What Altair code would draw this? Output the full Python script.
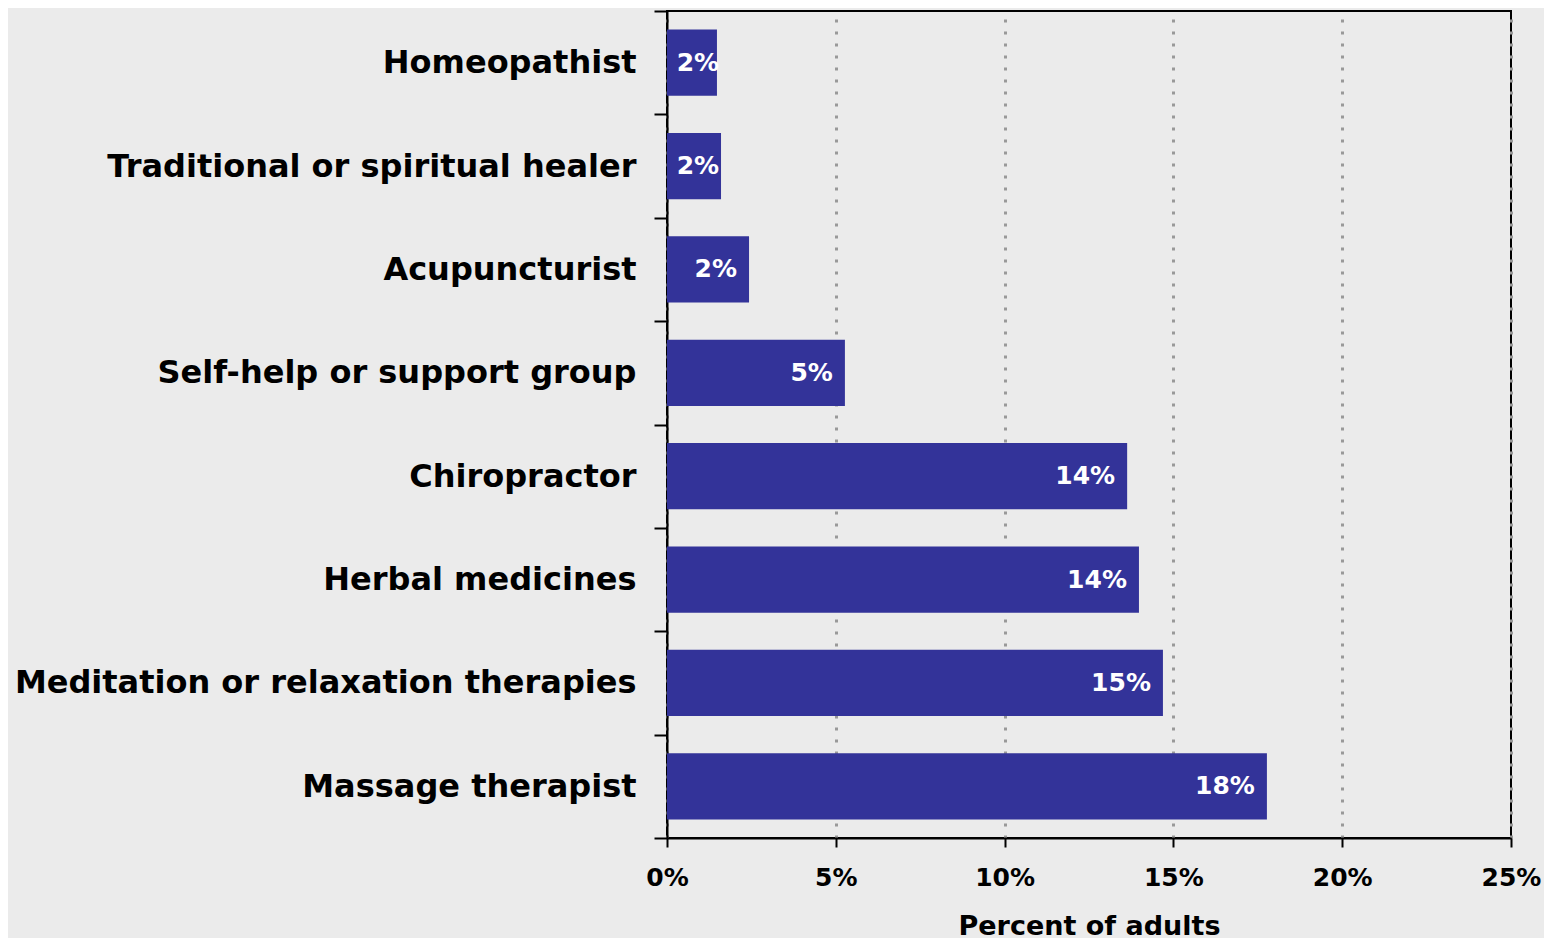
import altair as alt
import pandas as pd

categories = [
    "Homeopathist",
    "Traditional or spiritual healer",
    "Acupuncturist",
    "Self-help or support group",
    "Chiropractor",
    "Herbal medicines",
    "Meditation or relaxation therapies",
    "Massage therapist",
]
values = [1.48, 1.6, 2.43, 5.27, 13.63, 13.98, 14.69, 17.77]
labels = ["2%", "2%", "2%", "5%", "14%", "14%", "15%", "18%"]
x_ticks = [0, 5, 10, 15, 20, 25]

df = pd.DataFrame({"category": categories, "value": values, "label": labels})

y_scale = alt.Scale(paddingInner=0, paddingOuter=0)

y_enc = alt.Y(
    "category:N",
    sort=categories,
    scale=y_scale,
    axis=alt.Axis(
        title=None,
        labelFont="DejaVu Sans",
        labelFontWeight="bold",
        labelFontSize=32,
        labelColor="black",
        labelPadding=18,
        tickBand="extent",
        tickSize=13,
        tickColor="black",
        tickWidth=2,
        domainColor="black",
        domainWidth=2,
        grid=False,
        labelLimit=800,
    ),
)

x_scale = alt.Scale(domain=[0, 25], nice=False, zero=True)

bars = alt.Chart(df).mark_bar(color="#333399", height={"band": 0.64}).encode(
    x=alt.X(
        "value:Q",
        scale=x_scale,
        axis=alt.Axis(
            values=x_ticks,
            labelExpr="datum.value + '%'",
            labelFlush=False,
            title="Percent of adults",
            titleFont="DejaVu Sans",
            titleFontWeight="bold",
            titleFontSize=27,
            titleColor="black",
            titleY=75,
            titleBaseline="top",
            labelFont="DejaVu Sans",
            labelFontWeight="bold",
            labelFontSize=25,
            labelColor="black",
            labelPadding=18,
            tickSize=9,
            tickColor="black",
            tickWidth=2,
            domainColor="black",
            domainWidth=2,
            grid=True,
            gridColor="#999999",
            gridWidth=3,
            gridDash=[3, 9],
        ),
    ),
    y=y_enc,
)

text = alt.Chart(df).transform_calculate(
    lx="max(datum.value, 1.9)"
).mark_text(
    align="right",
    baseline="middle",
    dx=-12,
    color="white",
    font="DejaVu Sans",
    fontWeight="bold",
    fontSize=25,
).encode(
    x=alt.X("lx:Q", scale=x_scale),
    y=alt.Y("category:N", sort=categories, scale=y_scale),
    text="label:N",
)

chart = (
    alt.layer(bars, text)
    .properties(
        width=844,
        height=827,
        background="#EBEBEB",
        padding={"left": 659, "top": 3, "right": 33, "bottom": 110},
        autosize=alt.AutoSizeParams(type="none"),
    )
    .configure_view(stroke="black", strokeWidth=2, fill="#EBEBEB")
)

chart.save("out.html", embed_options={"renderer": "svg", "actions": False})
